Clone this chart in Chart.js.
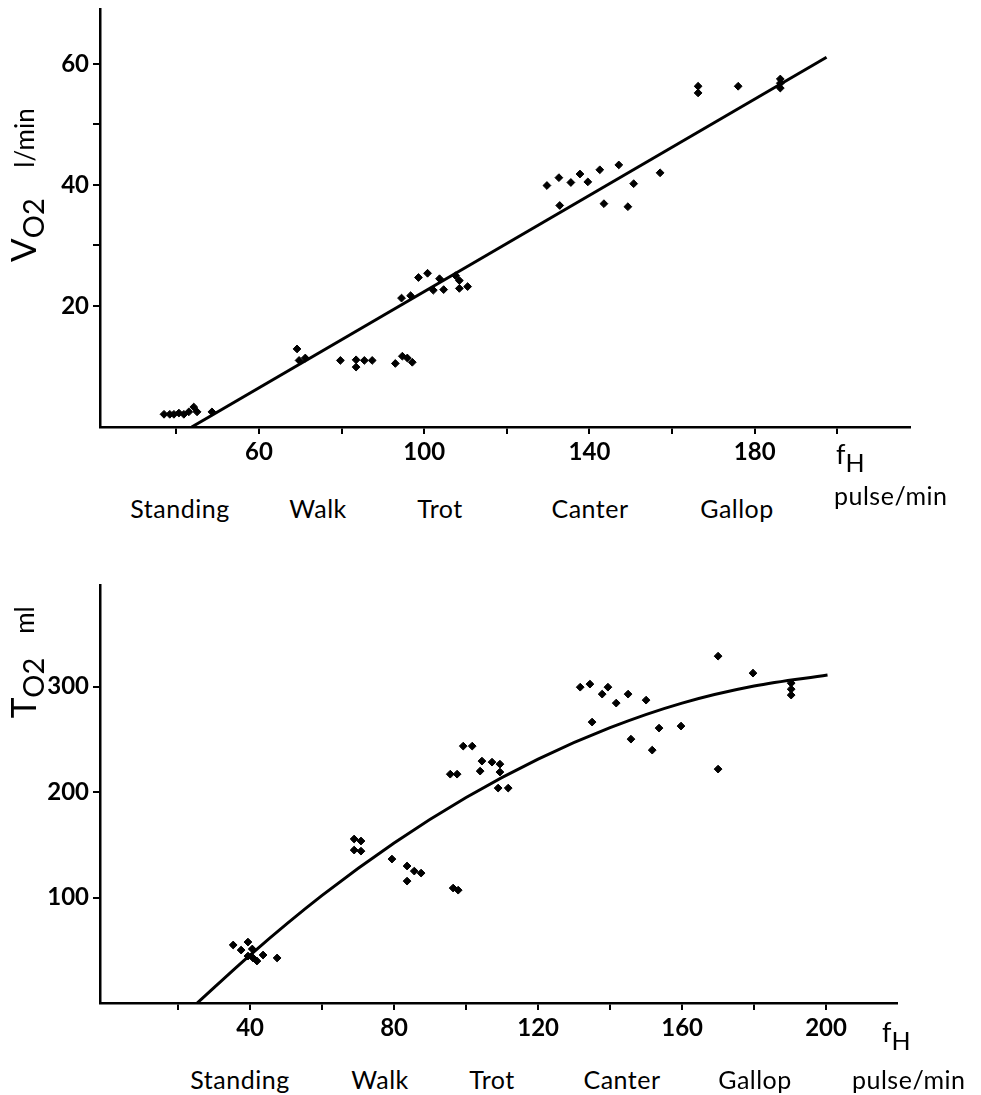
<!DOCTYPE html>
<html>
<head>
<meta charset="utf-8">
<script src="https://cdn.jsdelivr.net/npm/chart.js@4.4.1/dist/chart.umd.min.js"></script>
<style>
  body { margin: 0; background: #fff; width: 981px; height: 1095px; position: relative; overflow: hidden;
         font-family: Lato, "Open Sans", sans-serif; color: #000; }
  .box { position: absolute; left: 0; width: 981px; }
  .lbl { position: absolute; font-size: 25px; transform: translateX(-50%); white-space: nowrap; line-height: 1; letter-spacing: 0.5px; }
  .unit { position: absolute; font-size: 25px; white-space: nowrap; line-height: 1; letter-spacing: 0.5px; }
  .fh { position: absolute; font-size: 27px; line-height: 1; }
  .fh sub { font-size: 25px; vertical-align: -8px; }
  .ylab { position: absolute; white-space: nowrap; transform: translate(-50%, -50%) rotate(-90deg); line-height: 1; }
  .ylab.big { font-size: 35px; }
  .ylab.big sub { font-size: 29px; vertical-align: -8px; }
  .ylab.small { font-size: 26px; }
</style>
</head>
<body>
<div class="box" style="top:-9px; height:479px;"><canvas id="vo2"></canvas></div>
<div class="box" style="top:567px; height:483px;"><canvas id="to2"></canvas></div>

<!-- top chart texts -->
<div class="ylab small" style="left:24px; top:138px;">l/min</div>
<div class="ylab big" style="left:26px; top:230px;">V<sub>O2</sub></div>
<div class="fh" style="left:836px; top:440px;">f<sub>H</sub></div>
<div class="unit" style="left:834px; top:483px;">pulse/min</div>
<div id="topCats"></div>

<!-- bottom chart texts -->
<div class="ylab small" style="left:24px; top:620px;">ml</div>
<div class="ylab big" style="left:26px; top:688px;">T<sub>O2</sub></div>
<div class="fh" style="left:882px; top:1018px;">f<sub>H</sub></div>
<div class="unit" style="left:852px; top:1067px;">pulse/min</div>
<div id="botCats"></div>

<script>
// gait categories
const gaits = ['Standing', 'Walk', 'Trot', 'Canter', 'Gallop'];

// top chart: oxygen uptake VO2 (l/min) vs heart rate fH (pulse/min)
const vo2Pulse = [37, 38.4, 39.4, 40.6, 41.8, 43, 44.2, 45, 48.6,
  69.2, 69.7, 71.2, 79.7, 83.5, 83.5, 85.5, 87.4, 93, 94.7, 95.9, 97.1,
  94.5, 96.7, 98.6, 100.8, 102.2, 103.7, 104.7, 107.6, 108.5, 108.5, 110.5,
  129.7, 132.6, 135.5, 137.7, 139.6, 142.5, 147.1, 157.1, 150.7, 132.8, 143.5, 149.3,
  166.3, 166.3, 176, 186.2, 186.2, 186.2];
const vo2Values = [2.1, 2.1, 2.1, 2.3, 2.1, 2.5, 3.3, 2.5, 2.5,
  12.9, 11.0, 11.4, 11.0, 11.1, 9.9, 11.0, 11.0, 10.5, 11.7, 11.4, 10.7,
  21.3, 21.7, 24.7, 25.4, 22.6, 24.5, 22.7, 25, 24.2, 22.9, 23.2,
  39.9, 41.2, 40.4, 41.8, 40.5, 42.5, 43.3, 42, 40.2, 36.6, 36.9, 36.4,
  56.3, 55.2, 56.3, 57.5, 56.8, 56];
const vo2FitPulse = [43.7, 197.4];
const vo2FitValues = [0, 61.1];
const vo2XTicks = [40, 60, 80, 100, 120, 140, 160, 180, 200];
const vo2XLabels = [60, 100, 140, 180];
const vo2YTicks = [20, 30, 40, 50, 60];
const vo2YLabels = [20, 40, 60];

// bottom chart: oxygen pulse TO2 (ml) vs heart rate fH (pulse/min)
const to2Pulse = [35.3, 39.4, 37.5, 40.6, 39.4, 40.8, 41.9, 43.6, 47.5,
  68.9, 70.8, 68.9, 70.8, 79.4, 83.6, 83.6, 85.6, 87.5, 96.4, 97.8,
  99.2, 101.7, 95.6, 97.5, 104.4, 103.9, 107.2, 109.4, 109.4, 108.9, 111.7,
  131.7, 134.4, 139.4, 137.8, 145, 141.7, 150, 135, 153.6, 159.7, 145.8, 151.7,
  170, 179.7, 190.3, 190.3, 190.3, 170];
const to2Values = [55, 57.8, 50.2, 51.2, 44.5, 42.7, 39.8, 45.5, 42.7,
  155.5, 153.6, 145, 144, 136.5, 129.9, 115.6, 125.1, 123.2, 109, 107,
  243.6, 243.6, 217, 217, 229.4, 219.9, 228.4, 226.5, 219, 203.8, 203.8,
  299.5, 302.4, 299.5, 292.9, 292.9, 284.4, 287.2, 266.4, 260.7, 262.6, 250.2, 239.8,
  328.9, 312.8, 303.3, 297.6, 292, 221.8];
const to2FitPulse = [25.3, 40, 60, 80, 100, 120, 140, 160, 180, 200.4];
const to2FitValues = [0, 45.5, 102, 151.8, 194.9, 231.3, 261.1, 284.4, 300.6, 311];
const to2XTicks = [20, 40, 60, 80, 100, 120, 140, 160, 180, 200];
const to2XLabels = [40, 80, 120, 160, 200];
const to2YTicks = [100, 200, 300];
const to2YLabels = [100, 200, 300];

const pairs = (xs, ys) => xs.map((x, i) => ({ x: x, y: ys[i] }));

function makeAxis(ticks, labels, opts) {
  return Object.assign({
    type: 'linear',
    border: { display: true, color: '#000', width: 2.5 },
    grid: { drawOnChartArea: false, drawTicks: true, tickLength: 7, color: '#000', lineWidth: 2 },
    afterBuildTicks: (scale) => { scale.ticks = ticks.map(v => ({ value: v })); },
    ticks: {
      color: '#000',
      font: { family: 'Lato', size: 24, weight: 'bold' },
      padding: 4,
      autoSkip: false,
      maxRotation: 0,
      callback: (v) => labels.includes(v) ? String(v) : ''
    }
  }, opts);
}

function makeChart(id, pts, fit, fitTension, xr, yr, pad, xHeight) {
  return new Chart(document.getElementById(id), {
    type: 'scatter',
    data: {
      datasets: [
        {
          data: pts,
          pointStyle: 'rectRot',
          pointRadius: 3.9,
          backgroundColor: '#000',
          borderColor: '#000',
          borderWidth: 1
        },
        {
          type: 'line',
          data: fit,
          borderColor: '#000',
          borderWidth: 3,
          pointRadius: 0,
          tension: fitTension,
          cubicInterpolationMode: 'monotone',
          fill: false
        }
      ]
    },
    options: {
      responsive: true,
      maintainAspectRatio: false,
      animation: false,
      layout: { padding: pad },
      plugins: { legend: { display: false }, tooltip: { enabled: false } },
      scales: {
        x: makeAxis(xr.ticks, xr.labels, {
          min: xr.min, max: xr.max, position: 'bottom',
          afterFit: (s) => { s.height = xHeight; }
        }),
        y: makeAxis(yr.ticks, yr.labels, {
          min: yr.min, max: yr.max, position: 'left',
          afterFit: (s) => { s.width = 100; }
        })
      }
    }
  });
}

makeChart('vo2', pairs(vo2Pulse, vo2Values), pairs(vo2FitPulse, vo2FitValues), 0,
  { min: 21.5, max: 217.6, ticks: vo2XTicks, labels: vo2XLabels },
  { min: 0, max: 69, ticks: vo2YTicks, labels: vo2YLabels },
  { top: 0, right: 71, left: 0, bottom: 0 }, 43);

makeChart('to2', pairs(to2Pulse, to2Values), pairs(to2FitPulse, to2FitValues), 0.4,
  { min: -1.7, max: 219.7, ticks: to2XTicks, labels: to2XLabels },
  { min: 0, max: 396, ticks: to2YTicks, labels: to2YLabels },
  { top: 0, right: 84, left: 0, bottom: 0 }, 47);

// gait labels under each axis
const topCatX = [180, 318, 440, 590, 737];
const botCatX = [240, 380, 492, 622, 755];
function placeCats(el, xs, top) {
  gaits.forEach((g, i) => {
    const d = document.createElement('div');
    d.className = 'lbl';
    d.style.left = xs[i] + 'px';
    d.style.top = top + 'px';
    d.textContent = g;
    el.appendChild(d);
  });
}
placeCats(document.getElementById('topCats'), topCatX, 496);
placeCats(document.getElementById('botCats'), botCatX, 1067);
</script>
</body>
</html>
